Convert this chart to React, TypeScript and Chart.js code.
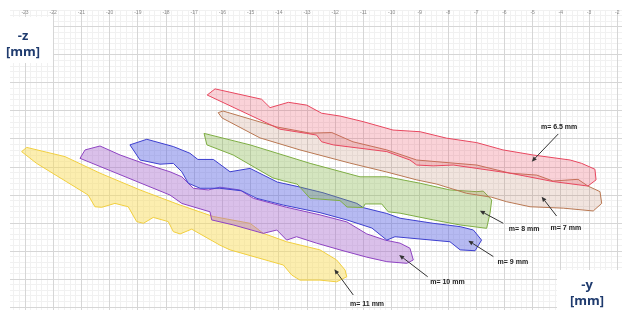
import { useEffect, useRef } from "react";
import { Chart, registerables } from "chart.js";

Chart.register(...registerables);

// ---- axis ticks ----
const xTickValues = [-23, -22, -21, -20, -19, -18, -17, -16, -15, -14, -13, -12, -11, -10, -9, -8, -7, -6, -5, -4, -3, -2];
const xTickLabels = ["-23", "-22", "-21", "-20", "-19", "-18", "-17", "-16", "-15", "-14", "-13", "-12", "-11", "-10", "-9", "-8", "-7", "-6", "-5", "-4", "-3", "-2"];
const yTickValues = [0, 1, 2, 3, 4, 5, 6, 7, 8, 9, 10];

// ---- series names ----
const seriesNames = ["m= 6.5 mm", "m= 7 mm", "m= 8 mm", "m= 9 mm", "m= 10 mm", "m= 11 mm"];

// ---- outlines (x = -y [mm], y = -z [mm]) ----
const outlineM65: [number, number][] = [
  [-16.54, 7.57], [-16.26, 7.79], [-14.61, 7.42], [-14.31, 7.12], [-13.66, 7.31], [-13.01, 7.21], [-12.48, 6.92],
  [-11.83, 6.82], [-11.01, 6.62], [-9.95, 6.32], [-8.99, 6.26], [-8.05, 6.03], [-6.98, 5.87], [-6.05, 5.61],
  [-4.99, 5.43], [-3.67, 5.25], [-3.26, 5.13], [-2.79, 4.92], [-2.75, 4.54], [-3.04, 4.32], [-4.27, 4.48],
  [-5.8, 4.78], [-6.98, 4.95], [-7.81, 5.07], [-8.52, 5.04], [-9.11, 5.07], [-9.35, 5.25], [-10.17, 5.55],
  [-11.12, 5.67], [-12.07, 5.79], [-12.48, 5.9], [-12.66, 6.14], [-13.01, 6.2], [-13.96, 6.35],
];
const outlineM7: [number, number][] = [
  [-16.15, 6.94], [-15.98, 7.0], [-14.07, 6.43], [-12.89, 6.21], [-12.12, 6.23], [-11.37, 5.9], [-10.17, 5.61],
  [-9.11, 5.25], [-7.82, 5.14], [-6.98, 5.07], [-5.8, 4.78], [-4.85, 4.71], [-4.28, 4.5], [-3.39, 4.56],
  [-3.04, 4.32], [-2.61, 4.12], [-2.55, 3.7], [-2.85, 3.43], [-3.91, 3.53], [-5.09, 3.58], [-5.92, 3.76],
  [-6.45, 3.92], [-7.34, 4.06], [-8.4, 4.39], [-9.11, 4.54], [-10.17, 4.82], [-11.48, 5.14], [-13.25, 5.61],
  [-14.67, 6.04], [-16.01, 6.75],
];
const outlineM8: [number, number][] = [
  [-16.65, 6.2], [-15.02, 5.79], [-12.89, 5.13], [-11.12, 4.65], [-10.17, 4.65], [-8.99, 4.42], [-7.93, 4.18],
  [-6.98, 4.12], [-6.75, 4.14], [-6.45, 3.82], [-6.51, 3.35], [-6.63, 2.81], [-7.57, 2.93], [-8.52, 3.11],
  [-9.7, 3.35], [-10.12, 3.4], [-10.35, 3.68], [-10.94, 3.68], [-11.01, 3.55], [-11.58, 3.57], [-11.83, 3.8],
  [-12.89, 3.88], [-13.35, 4.39], [-13.85, 4.51], [-14.21, 4.61], [-15.62, 5.43], [-16.55, 5.79],
];
const outlineM9: [number, number][] = [
  [-19.28, 5.79], [-18.68, 5.99], [-17.74, 5.73], [-17.15, 5.49], [-16.87, 5.27], [-16.32, 5.27], [-15.73, 4.83],
  [-15.02, 4.95], [-14.05, 4.46], [-13.32, 4.3], [-12.43, 4.08], [-11.23, 3.7], [-11.01, 3.55], [-10.17, 3.34],
  [-9.7, 3.17], [-8.53, 2.99], [-7.57, 2.87], [-7.1, 2.75], [-6.81, 2.39], [-7.04, 2.01], [-7.57, 2.04],
  [-7.93, 2.33], [-9.88, 2.51], [-10.17, 2.39], [-10.7, 2.82], [-11.59, 3.11], [-12.54, 3.37], [-13.84, 3.64],
  [-14.78, 3.88], [-15.32, 4.15], [-16.09, 4.24], [-16.79, 4.24], [-17.21, 4.42], [-17.44, 4.83], [-17.74, 5.13],
  [-18.21, 5.1], [-18.92, 5.25],
];
const outlineM10: [number, number][] = [
  [-21.05, 5.31], [-20.87, 5.61], [-20.34, 5.75], [-19.63, 5.43], [-18.8, 5.13], [-17.86, 4.83], [-17.44, 4.65],
  [-17.03, 4.24], [-16.5, 4.18], [-16.09, 4.28], [-15.38, 4.18], [-14.9, 3.88], [-13.72, 3.56], [-12.54, 3.29],
  [-11.59, 3.04], [-10.88, 2.61], [-10.23, 2.39], [-9.7, 2.28], [-9.35, 2.1], [-9.23, 1.68], [-9.46, 1.56],
  [-10.17, 1.62], [-10.88, 1.78], [-11.83, 2.04], [-12.66, 2.28], [-13.37, 2.51], [-13.72, 2.39], [-14.07, 2.75],
  [-14.55, 2.63], [-15.61, 2.93], [-16.38, 3.11], [-16.44, 3.4], [-17.44, 3.7], [-17.86, 4.0],
];
const outlineM11: [number, number][] = [
  [-23.12, 5.55], [-22.94, 5.7], [-21.58, 5.37], [-20.34, 4.78], [-18.92, 4.18], [-17.5, 3.64], [-16.32, 3.23],
  [-15.02, 2.99], [-14.55, 2.63], [-13.72, 2.33], [-12.54, 2.04], [-11.95, 1.68], [-11.65, 1.32], [-11.59, 1.08],
  [-11.95, 0.9], [-12.54, 0.96], [-13.25, 0.96], [-13.54, 1.14], [-13.84, 1.5], [-15.73, 2.04], [-16.09, 2.21],
  [-17.09, 2.78], [-17.5, 2.61], [-17.74, 2.69], [-17.92, 3.05], [-18.45, 3.2], [-18.8, 2.99], [-19.04, 3.05],
  [-19.34, 3.58], [-19.81, 3.7], [-20.28, 3.56], [-20.52, 3.58], [-20.76, 4.0], [-22.59, 5.13],
];

// ---- annotation anchors (same order as seriesNames) ----
const labelX = [-4.06, -3.82, -5.3, -5.7, -8.02, -10.87];
const labelY = [6.43, 2.82, 2.77, 1.61, 0.9, 0.11];
const arrowFromX = [-4.09, -4.15, -6.04, -6.39, -8.72, -11.36];
const arrowFromY = [6.18, 3.25, 2.99, 1.8, 1.08, 0.43];
const arrowToX = [-5.03, -4.68, -6.87, -7.28, -9.73, -12.03];
const arrowToY = [5.19, 3.94, 3.44, 2.37, 1.86, 1.35];

const X_MIN = -23.532;
const X_MAX = -1.83;
const Y_MIN = -0.107;
const Y_MAX = 10.607;

const outlines = [outlineM65, outlineM7, outlineM8, outlineM9, outlineM10, outlineM11];
const strokeColors = ["#e8475f", "#b97853", "#7fae45", "#3d3fcf", "#8e43c2", "#f1cf3f"];
const fillColors = [
  "rgba(234,80,104,0.26)",
  "rgba(185,120,88,0.2)",
  "rgba(128,180,68,0.34)",
  "rgba(88,98,226,0.44)",
  "rgba(168,104,204,0.42)",
  "rgba(248,220,88,0.48)",
];

function minorTicks(min: number, max: number, step: number, every: number) {
  const out: { value: number }[] = [];
  for (let k = Math.ceil(min / step); k <= Math.floor(max / step); k++) {
    if (k % every !== 0) out.push({ value: +(k * step).toFixed(4) });
  }
  return out;
}

const decorPlugin = {
  id: "decor",
  afterDraw(chart: any) {
    const ctx = chart.ctx as CanvasRenderingContext2D;
    const xs = chart.scales.x;
    const ys = chart.scales.y;
    ctx.save();
    // top tick labels
    ctx.font = "5px 'Liberation Sans', Arial, sans-serif";
    ctx.fillStyle = "#8a8a8a";
    ctx.textAlign = "center";
    ctx.textBaseline = "middle";
    xTickValues.forEach((v, i) => {
      ctx.fillText(xTickLabels[i], xs.getPixelForValue(v), 13);
    });
    // arrows + labels
    ctx.strokeStyle = "#333";
    ctx.fillStyle = "#333";
    ctx.lineWidth = 1;
    for (let i = 0; i < seriesNames.length; i++) {
      const fx = xs.getPixelForValue(arrowFromX[i]);
      const fy = ys.getPixelForValue(arrowFromY[i]);
      const tx = xs.getPixelForValue(arrowToX[i]);
      const ty = ys.getPixelForValue(arrowToY[i]);
      const ang = Math.atan2(ty - fy, tx - fx);
      const hl = 5;
      const hw = 2.2;
      const bx = tx - hl * Math.cos(ang);
      const by = ty - hl * Math.sin(ang);
      ctx.beginPath();
      ctx.moveTo(fx, fy);
      ctx.lineTo(bx, by);
      ctx.stroke();
      ctx.beginPath();
      ctx.moveTo(tx, ty);
      ctx.lineTo(bx + hw * Math.sin(ang), by - hw * Math.cos(ang));
      ctx.lineTo(bx - hw * Math.sin(ang), by + hw * Math.cos(ang));
      ctx.closePath();
      ctx.fill();
    }
    ctx.font = "bold 7px 'Liberation Sans', Arial, sans-serif";
    ctx.fillStyle = "#222";
    for (let i = 0; i < seriesNames.length; i++) {
      ctx.fillText(seriesNames[i], xs.getPixelForValue(labelX[i]), ys.getPixelForValue(labelY[i]));
    }
    // axis title boxes
    ctx.fillStyle = "#ffffff";
    ctx.fillRect(0, 17, 53, 46);
    ctx.fillRect(557, 270, 65, 40);
    ctx.fillStyle = "#1f3b6e";
    ctx.font = "bold 13px 'Open Sans', 'Liberation Sans', sans-serif";
    ctx.fillText("-z", 23, 36);
    ctx.fillText("[mm]", 23, 52);
    ctx.fillText("-y", 587, 285);
    ctx.fillText("[mm]", 587, 301);
    ctx.restore();
  },
};

export default function App() {
  const ref = useRef<HTMLCanvasElement | null>(null);
  useEffect(() => {
    if (!ref.current) return;
    const datasets = outlines.map((pts, i) => ({
      label: seriesNames[i],
      data: [...pts, pts[0]].map(([x, y]) => ({ x, y })),
      showLine: true,
      fill: "shape" as any,
      borderColor: strokeColors[i],
      backgroundColor: fillColors[i],
      borderWidth: 1,
      pointRadius: 0,
      tension: 0,
    }));
    const common = {
      type: "linear" as const,
      ticks: { display: false },
      border: { display: false },
    };
    const chart = new Chart(ref.current, {
      type: "scatter",
      data: { datasets },
      options: {
        animation: false,
        responsive: false,
        events: [],
        layout: { padding: { left: 10, top: 10, right: 0, bottom: 0 } },
        plugins: { legend: { display: false }, tooltip: { enabled: false } },
        scales: {
          xMinor: {
            ...common,
            axis: "x",
            position: "bottom",
            min: X_MIN,
            max: X_MAX,
            grid: { color: "#f1f1f1", drawTicks: false, z: -2 },
            afterBuildTicks: (s: any) => {
              s.ticks = minorTicks(X_MIN, X_MAX, 0.2, 5);
            },
          },
          yMinor: {
            ...common,
            axis: "y",
            position: "left",
            min: Y_MIN,
            max: Y_MAX,
            grid: { color: "#f1f1f1", drawTicks: false, z: -2 },
            afterBuildTicks: (s: any) => {
              s.ticks = minorTicks(Y_MIN, Y_MAX, 0.2, 5);
            },
          },
          x: {
            ...common,
            position: "bottom",
            min: X_MIN,
            max: X_MAX,
            grid: { color: "#d6d6d6", drawTicks: false, z: -1 },
            afterBuildTicks: (s: any) => {
              s.ticks = xTickValues.map((v) => ({ value: v }));
            },
          },
          y: {
            ...common,
            position: "left",
            min: Y_MIN,
            max: Y_MAX,
            grid: { color: "#d6d6d6", drawTicks: false, z: -1 },
            afterBuildTicks: (s: any) => {
              s.ticks = yTickValues.map((v) => ({ value: v }));
            },
          },
        } as any,
      },
      plugins: [decorPlugin],
    });
    return () => chart.destroy();
  }, []);
  return (
    <div style={{ position: "fixed", left: 0, top: 0, width: 622, height: 310, background: "#fff" }}>
      <canvas ref={ref} width={622} height={310} style={{ display: "block" }} />
    </div>
  );
}
